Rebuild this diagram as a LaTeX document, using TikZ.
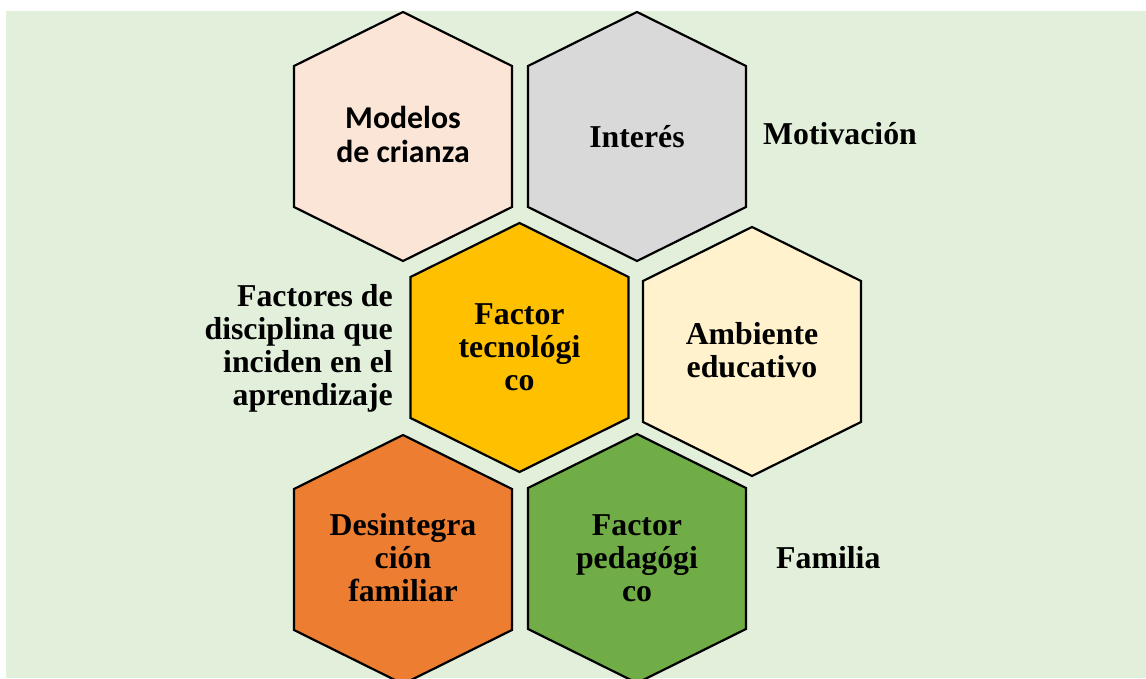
\documentclass[tikz,border=0pt]{standalone}
\usepackage{fontspec}
\setmainfont{Liberation Serif}
\newfontfamily\calibfont{Carlito}
\definecolor{bgc}{HTML}{E2EFDA}
\definecolor{peach}{HTML}{FBE5D6}
\definecolor{grayc}{HTML}{D9D9D9}
\definecolor{goldc}{HTML}{FFC000}
\definecolor{creamc}{HTML}{FFF2CC}
\definecolor{orangec}{HTML}{ED7D31}
\definecolor{greenc}{HTML}{70AD47}
\def\hexshape{++(0,124.5) -- ++(109,-54) -- ++(0,-141) -- ++(-109,-54) -- ++(-109,54) -- ++(0,141) -- cycle}
\begin{document}
\begin{tikzpicture}[x=1pt,y=1pt,
  hexa/.style={draw=black, line width=2.2pt, line join=miter},
  lbl/.style={font=\bfseries\fontsize{31.8}{33}\selectfont, align=center, inner sep=0pt, text=black},
  side/.style={lbl}
]
\clip (0,0) rectangle (1146,678);
\fill[bgc] (6,0) rectangle (1146,667);
\coordinate (c1) at (403,541.5);
\coordinate (c2) at (637,541.5);
\coordinate (c3) at (519.5,330.5);
\coordinate (c4) at (752,326.5);
\coordinate (c5) at (403,118.5);
\coordinate (c6) at (637,119.5);
\draw[hexa, fill=peach] (c1) \hexshape;
\draw[hexa, fill=grayc] (c2) \hexshape;
\draw[hexa, fill=goldc] (c3) \hexshape;
\draw[hexa, fill=creamc] (c4) \hexshape;
\draw[hexa, fill=orangec] (c5) \hexshape;
\draw[hexa, fill=greenc] (c6) \hexshape;
\node[lbl, font=\calibfont\bfseries\fontsize{31.8}{34}\selectfont] (t1) at (403,544) {Modelos\\de crianza};
\node[lbl, anchor=base] (t2) at (637,530) {Interés};
\node[lbl] (t3) at (519.5,331) {Factor\\tecnológi\\co};
\node[lbl] (t4) at (752,328) {Ambiente\\educativo};
\node[lbl] (t5) at (403,120) {Desintegra\\ción\\familiar};
\node[lbl] (t6) at (637,120) {Factor\\pedagógi\\co};
\node[side, align=right, anchor=east] (l1) at (393,330) {Factores de\\disciplina que\\inciden en el\\aprendizaje};
\node[side, anchor=base west] (l2) at (763,533) {Motivación};
\node[side, anchor=base west] (l3) at (776,110) {Familia};
\end{tikzpicture}
\end{document}
